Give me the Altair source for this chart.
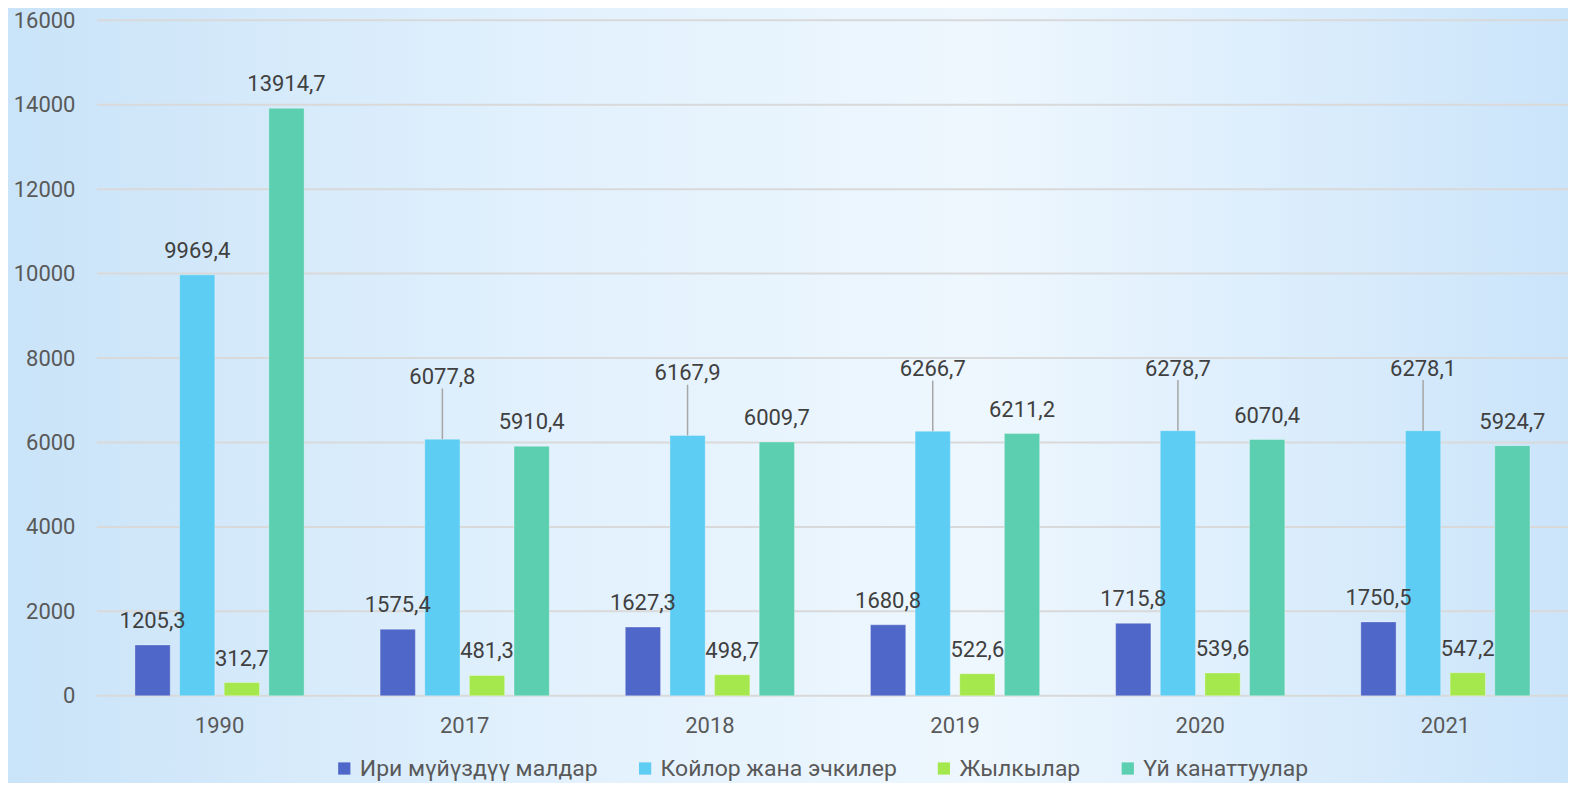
import altair as alt
import pandas as pd

years = ["1990", "2017", "2018", "2019", "2020", "2021"]
series = ["Ири мүйүздүү малдар", "Койлор жана эчкилер", "Жылкылар", "Үй канаттуулар"]
cattle = [1205.3, 1575.4, 1627.3, 1680.8, 1715.8, 1750.5]
sheep_goats = [9969.4, 6077.8, 6167.9, 6266.7, 6278.7, 6278.1]
horses = [312.7, 481.3, 498.7, 522.6, 539.6, 547.2]
poultry = [13914.7, 5910.4, 6009.7, 6211.2, 6070.4, 5924.7]
colors = ["#4f67c8", "#5ecdf3", "#a5e84e", "#5ccfb0"]
y_ticks = [0, 2000, 4000, 6000, 8000, 10000, 12000, 14000, 16000]

rows = []
for s, vals in zip(series, [cattle, sheep_goats, horses, poultry]):
    for yr, v in zip(years, vals):
        rows.append({"year": yr, "series": s, "value": v,
                     "label": f"{v:.1f}".replace(".", ",")})
df = pd.DataFrame(rows)
grid_df = pd.DataFrame({"tick": y_ticks})

FONT = "Roboto"
W, H = 1472, 676

base = alt.Chart(df)

x_enc = alt.X("year:N", sort=years, title=None,
              scale=alt.Scale(paddingInner=0.31, paddingOuter=0.155),
              axis=alt.Axis(labelFontSize=22, labelColor="#595959", labelFont=FONT,
                            labelPadding=20, ticks=False, domain=False, grid=False,
                            labelAngle=0, zindex=1))
xo_enc = alt.XOffset("series:N", sort=series,
                     scale=alt.Scale(paddingInner=0.21, paddingOuter=0))
y_scale = alt.Scale(domain=[0, 16000], nice=False)

bg = alt.Chart(pd.DataFrame({"a": [0]})).mark_rect(
    clip=False,
    fill=alt.Gradient(
        gradient="linear", x1=0, x2=1, y1=0, y2=0,
        stops=[alt.GradientStop(color="#c9e3f8", offset=0),
               alt.GradientStop(color="#e2f1fd", offset=0.35),
               alt.GradientStop(color="#eef7fe", offset=0.62),
               alt.GradientStop(color="#cae4fa", offset=1)])
).encode(x=alt.value(-97), x2=alt.value(W + 10), y=alt.value(-20), y2=alt.value(H + 100))

grid = alt.Chart(grid_df).mark_rule(color="#d9d9d9", strokeWidth=2).encode(
    y=alt.Y("tick:Q", scale=y_scale), x=alt.value(0), x2=alt.value(W))

bars = base.mark_bar(stroke="#ffffff", strokeWidth=0.6, strokeOpacity=0.5).encode(
    x=x_enc, xOffset=xo_enc,
    y=alt.Y("value:Q", scale=y_scale, title=None,
            axis=alt.Axis(values=y_ticks, format="d", labelFontSize=22,
                          labelColor="#595959", labelFont=FONT, labelPadding=22,
                          ticks=False, domain=False, grid=False, zindex=1)),
    color=alt.Color("series:N", sort=series,
                    scale=alt.Scale(domain=series, range=colors),
                    legend=alt.Legend(title=None, orient="none", legendX=236, legendY=737,
                                      direction="horizontal", columns=4,
                                      symbolType="square", symbolSize=150,
                                      symbolStrokeWidth=0, symbolOffset=0,
                                      labelFontSize=23, labelFont=FONT, labelLimit=0,
                                      labelColor="#595959", columnPadding=35,
                                      labelOffset=4)),
)

is_raised = "datum.series == '" + series[1] + "' && datum.year != '1990'"

labels = base.transform_filter("!(" + is_raised + ")").mark_text(
    font=FONT, fontSize=22, color="#404040", baseline="middle", dy=-24
).encode(x=x_enc, xOffset=xo_enc, y=alt.Y("value:Q", scale=y_scale), text="label:N")

raised_labels = base.transform_filter(is_raised).mark_text(
    font=FONT, fontSize=22, color="#404040", baseline="middle", dy=-62
).encode(x=x_enc, xOffset=xo_enc, y=alt.Y("value:Q", scale=y_scale), text="label:N")

leaders = base.transform_filter(is_raised).transform_calculate(
    top="datum.value + 1200"
).mark_rule(color="#a6a6a6", strokeWidth=1.5).encode(
    x=x_enc, xOffset=xo_enc, y=alt.Y("value:Q", scale=y_scale), y2="top:Q")

chart = alt.layer(bg, grid, bars, leaders, labels, raised_labels).properties(
    width=W, height=H,
    autosize=alt.AutoSizeParams(type="none"),
    padding={"left": 89, "top": 12, "right": 0, "bottom": 87},
    background="#d8ebfb",
).configure_view(stroke=None)

chart.save("out.html", embed_options={"renderer": "svg", "actions": False})
